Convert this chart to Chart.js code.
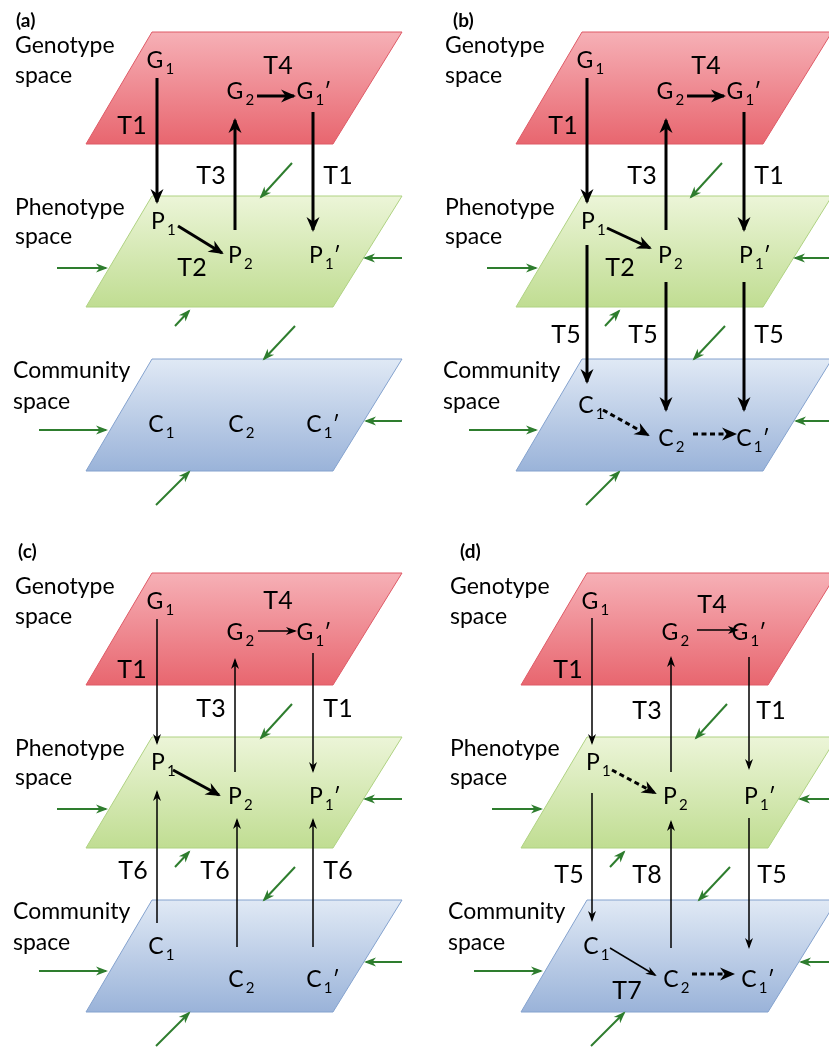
<!DOCTYPE html>
<html>
<head>
<meta charset="utf-8">
<script src="https://cdn.jsdelivr.net/npm/chart.js@4.4.1/dist/chart.umd.min.js"></script>
<style>
  html, body { margin: 0; padding: 0; background: #fff; }
  #wrap { position: relative; width: 829px; height: 1049px; }
</style>
</head>
<body>
<div id="wrap"><canvas id="diagram"></canvas></div>
<script>
// panels (a)-(d): local diagram coordinates are shifted per panel
var panelTags = ['(a)', '(b)', '(c)', '(d)'];
var panelDX = [0, 430, 0, 435];
var panelDY = [0, 0, 541, 541];
var tagX = [16, 23, 18, 25];
var tagY = [21, 21, 11, 11];

// the three spaces (planes)
var spaceNames = [['Genotype', 'space'], ['Phenotype', 'space'], ['Community', 'space']];
var spaceTextX = [15, 15, 13];
var spaceTextY = [[46, 76], [208, 237], [371, 402]];
var planeTopY = [32, 196, 359];
var planeBottomY = [144, 307, 471];
var planeTopX = [152, 402];
var planeBottomX = [86, 333];
var planeColors = [
  ['#f6b0b6', '#e8666f', '#de5a66'],
  ['#ecf5d8', '#c0dd92', '#afd282'],
  ['#e0e9f5', '#9ab3d9', '#84a2ce']
];

// nodes G1 G2 G1' / P1 P2 P1' / C1 C2 C1'
var nodeLetter = ['G', 'G', 'G', 'P', 'P', 'P', 'C', 'C', 'C'];
var nodeIndex = ['1', '2', '1', '1', '2', '1', '1', '2', '1'];
var nodePrimed = [0, 0, 1, 0, 0, 1, 0, 0, 1];
var nodeX = [155, 235, 305, 158, 235, 316, 156, 236, 314];
var nodeYa = [61, 92, 92, 222, 256, 256, 425, 425, 425];
var nodeYbcd = [61, 92, 92, 222, 256, 256, 406, 439, 439];

// transition labels [text, x, y]
var labelsA = [['T1', 132, 126], ['T4', 278, 66], ['T3', 211, 176], ['T1', 338, 176], ['T2', 192, 268]];
var labelsB = [['T1', 133, 126], ['T4', 276, 66], ['T3', 212, 176], ['T1', 339, 176], ['T2', 190, 268],
               ['T5', 136, 335], ['T5', 213, 335], ['T5', 339, 335]];
var labelsC = [['T1', 132, 129], ['T4', 278, 60], ['T3', 211, 168], ['T1', 338, 168],
               ['T6', 133, 330], ['T6', 215, 330], ['T6', 338, 330]];
var labelsD = [['T1', 133, 129], ['T4', 277, 64], ['T3', 212, 170], ['T1', 336, 170],
               ['T5', 134, 334], ['T8', 212, 334], ['T5', 337, 334], ['T7', 192, 450]];

// transitions [x0, y0, x1, y1, kind]
var edgesA = [[157, 78, 157, 202, 'bold'], [235, 230, 235, 120, 'bold'], [257, 96, 294, 96, 'bold'],
              [313, 112, 313, 230, 'bold'], [178, 226, 222, 253, 'bold']];
var edgesB = [[157, 78, 157, 202, 'bold'], [236, 230, 236, 120, 'bold'], [257, 96, 294, 96, 'bold'],
              [314, 112, 314, 230, 'bold'], [177, 228, 220, 248, 'bold'],
              [157, 245, 157, 382, 'bold'], [236, 282, 236, 410, 'bold'], [314, 282, 314, 410, 'bold'],
              [173, 410, 218, 435, 'dash'], [263, 434, 305, 434, 'dash']];
var edgesC = [[157, 78, 157, 202, 'thin'], [235, 231, 235, 119, 'thin'], [258, 90, 295, 90, 'thin'],
              [313, 112, 313, 230, 'thin'], [173, 229, 219, 254, 'bold'],
              [157, 382, 157, 251, 'thin'], [237, 406, 237, 279, 'thin'], [313, 406, 313, 279, 'thin']];
var edgesD = [[157, 77, 157, 202, 'thin'], [236, 231, 236, 117, 'thin'], [262, 89, 302, 89, 'thin'],
              [314, 116, 314, 227, 'thin'], [177, 229, 220, 252, 'dash'],
              [157, 252, 157, 379, 'thin'], [236, 407, 236, 281, 'thin'], [314, 277, 314, 406, 'thin'],
              [175, 407, 220, 434, 'thin'], [257, 433, 298, 433, 'dash']];

// green input arrows (same in every panel)
var greenArrows = [[292, 163, 261, 197], [57, 268, 106, 268], [402, 258, 365, 258], [175, 326, 189, 311],
                   [295, 326, 264, 359], [39, 430, 106, 430], [402, 421, 366, 421], [156, 505, 189, 472]];

var panelLabels = [labelsA, labelsB, labelsC, labelsD];
var panelEdges = [edgesA, edgesB, edgesC, edgesD];
var panelNodeY = [nodeYa, nodeYbcd, nodeYbcd, nodeYbcd];

var FONT = 'Lato, "Open Sans", sans-serif';
var heads = { bold: [13, 6.5], dash: [13, 6.5], thin: [9, 4], green: [10, 4.5] };

function planeFill(c) {
  var chart = c.chart, ds = c.dataset;
  if (!chart.chartArea || !chart.scales.y) return ds.colors[1];
  var y = chart.scales.y;
  var top = y.getPixelForValue(ds.data[0].y), bot = y.getPixelForValue(ds.data[2].y);
  var g = chart.ctx.createLinearGradient(0, top, 0, bot);
  g.addColorStop(0, ds.colors[0]);
  g.addColorStop(1, ds.colors[1]);
  return g;
}

var datasets = [];
panelTags.forEach(function (tag, p) {
  var ox = panelDX[p], oy = panelDY[p];
  planeTopY.forEach(function (ty, i) {
    var by = planeBottomY[i];
    datasets.push({
      data: [
        { x: ox + planeTopX[0], y: oy + ty }, { x: ox + planeTopX[1], y: oy + ty },
        { x: ox + planeBottomX[1], y: oy + by }, { x: ox + planeBottomX[0], y: oy + by },
        { x: ox + planeTopX[0], y: oy + ty }
      ],
      colors: planeColors[i],
      showLine: true, fill: 'shape', tension: 0,
      backgroundColor: planeFill, borderColor: planeColors[i][2], borderWidth: 1,
      pointRadius: 0, order: 10
    });
  });
  greenArrows.forEach(function (a) {
    datasets.push({
      data: [{ x: ox + a[0], y: oy + a[1] }, { x: ox + a[2], y: oy + a[3] }],
      showLine: true, borderColor: '#2e7d2e', borderWidth: 2, pointRadius: 0,
      head: 'green', order: 5
    });
  });
  panelEdges[p].forEach(function (e) {
    var k = e[4];
    datasets.push({
      data: [{ x: ox + e[0], y: oy + e[1] }, { x: ox + e[2], y: oy + e[3] }],
      showLine: true, borderColor: '#000',
      borderWidth: k === 'thin' ? 1.5 : 3,
      borderDash: k === 'dash' ? [5, 3.5] : [],
      pointRadius: 0, head: k, order: 1
    });
  });
});

var diagramText = {
  id: 'diagramText',
  afterDatasetsDraw: function (chart) {
    var ctx = chart.ctx, sx = chart.scales.x, sy = chart.scales.y;
    // arrowheads
    chart.data.datasets.forEach(function (ds, i) {
      if (!ds.head) return;
      var pts = chart.getDatasetMeta(i).data;
      var a = pts[pts.length - 2], b = pts[pts.length - 1];
      var s = heads[ds.head];
      var ang = Math.atan2(b.y - a.y, b.x - a.x);
      ctx.save();
      ctx.translate(b.x, b.y);
      ctx.rotate(ang);
      ctx.beginPath();
      ctx.moveTo(2, 0);
      ctx.lineTo(-s[0], -s[1]);
      ctx.lineTo(-s[0] * 0.65, 0);
      ctx.lineTo(-s[0], s[1]);
      ctx.closePath();
      ctx.fillStyle = ds.borderColor;
      ctx.fill();
      ctx.restore();
    });

    ctx.save();
    ctx.fillStyle = '#000';
    ctx.textBaseline = 'middle';
    panelTags.forEach(function (tag, p) {
      var ox = panelDX[p], oy = panelDY[p];
      function X(v) { return sx.getPixelForValue(ox + v); }
      function Y(v) { return sy.getPixelForValue(oy + v); }

      ctx.textAlign = 'left';
      ctx.font = 'bold 19px ' + FONT;
      ctx.fillText(tag, X(tagX[p]), Y(tagY[p]));

      ctx.font = '23px ' + FONT;
      spaceNames.forEach(function (n, i) {
        ctx.fillText(n[0], X(spaceTextX[i]), Y(spaceTextY[i][0]));
        ctx.fillText(n[1], X(spaceTextX[i]), Y(spaceTextY[i][1]));
      });

      ctx.textAlign = 'center';
      ctx.font = '25px ' + FONT;
      panelLabels[p].forEach(function (l) {
        ctx.fillText(l[0], X(l[1]), Y(l[2]));
      });

      nodeLetter.forEach(function (letter, i) {
        var x = X(nodeX[i]), y = Y(panelNodeY[p][i]);
        ctx.textAlign = 'center';
        ctx.font = '23px ' + FONT;
        ctx.fillText(letter, x, y);
        var w = ctx.measureText(letter).width;
        ctx.textAlign = 'left';
        ctx.font = '15px ' + FONT;
        ctx.fillText(nodeIndex[i], x + w / 2 + 2, y + 8);
        if (nodePrimed[i]) {
          var w2 = ctx.measureText(nodeIndex[i]).width;
          ctx.font = '22px ' + FONT;
          ctx.fillText('\u2032', x + w / 2 + w2 + 2, y - 1);
        }
      });
    });
    ctx.restore();
  }
};

new Chart(document.getElementById('diagram'), {
  type: 'scatter',
  data: { datasets: datasets },
  options: {
    responsive: true, maintainAspectRatio: false, animation: false, events: [],
    layout: { padding: 0 },
    plugins: { legend: { display: false }, tooltip: { enabled: false } },
    scales: {
      x: { type: 'linear', min: 0, max: 829, display: false },
      y: { type: 'linear', min: 0, max: 1049, reverse: true, display: false }
    }
  },
  plugins: [diagramText]
});
</script>
</body>
</html>
